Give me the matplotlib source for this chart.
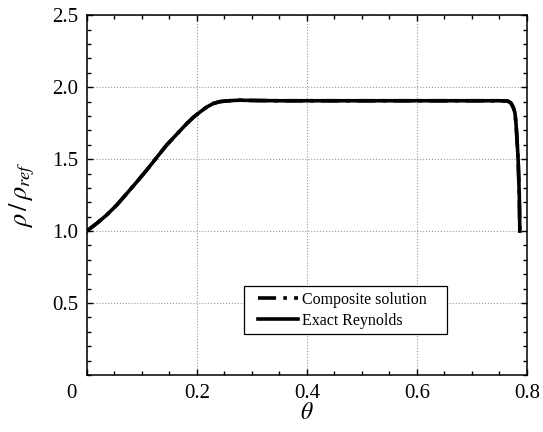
import matplotlib
matplotlib.use('Agg')
import matplotlib.pyplot as plt
import matplotlib.transforms as mtransforms
from matplotlib.ticker import MultipleLocator
from matplotlib.legend_handler import HandlerLine2D

plt.rcParams['font.family'] = ['Liberation Serif', 'DejaVu Serif']
plt.rcParams['mathtext.fontset'] = 'stix'

# values
theta_exact = [0.0, 0.018, 0.036, 0.055, 0.073, 0.091, 0.109, 0.127, 0.145, 0.164,
               0.182, 0.194, 0.206, 0.218, 0.230, 0.242, 0.255, 0.267, 0.279, 0.30,
               0.35, 0.40, 0.50, 0.60, 0.70, 0.75, 0.765, 0.771, 0.775, 0.778,
               0.780, 0.782, 0.784, 0.786, 0.787]
rho_exact = [1.0, 1.053, 1.111, 1.183, 1.262, 1.342, 1.424, 1.511, 1.597, 1.675,
             1.748, 1.792, 1.828, 1.862, 1.887, 1.900, 1.905, 1.908, 1.910, 1.908,
             1.906, 1.906, 1.906, 1.906, 1.906, 1.906, 1.904, 1.890, 1.860, 1.825,
             1.75, 1.63, 1.49, 1.25, 1.0]
theta_comp = list(theta_exact)
rho_comp = list(rho_exact)

xtick_vals = [0, 0.2, 0.4, 0.6, 0.8]
xtick_labels = ['0', '0.2', '0.4', '0.6', '0.8']
ytick_vals = [0.5, 1.0, 1.5, 2.0, 2.5]
ytick_labels = ['0.5', '1.0', '1.5', '2.0', '2.5']

fig = plt.figure(figsize=(5.43, 4.32), dpi=100)
ax = fig.add_axes([0.1597, 0.132, 0.8108, 0.8326])

l1, = ax.plot(theta_comp, rho_comp, color='black', lw=2.6, ls=(0, (5, 2, 1, 2)),
              label='Composite solution')
l2, = ax.plot(theta_exact, rho_exact, color='black', lw=2.6, label='Exact Reynolds')

ax.set_xlim(0, 0.8)
ax.set_ylim(0, 2.5)
ax.xaxis.set_minor_locator(MultipleLocator(0.05))
ax.yaxis.set_minor_locator(MultipleLocator(0.1))
ax.set_xticks(xtick_vals)
ax.set_xticklabels(xtick_labels)
ax.set_yticks(ytick_vals)
ax.set_yticklabels(ytick_labels)

ax.tick_params(which='both', direction='in', top=True, right=True, width=1.0)
ax.tick_params(which='major', length=4.5, labelsize=15)
ax.tick_params(axis='x', which='major', pad=6.5)
ax.tick_params(axis='y', which='major', pad=6)
ax.tick_params(which='minor', length=3)
# the "0" sits left of the corner in the original
lab0 = ax.get_xticklabels()[0]
lab0.set_transform(lab0.get_transform() +
                   mtransforms.ScaledTranslation(-15 / 100, 0, fig.dpi_scale_trans))
for s in ax.spines.values():
    s.set_linewidth(1.1)

ax.grid(True, which='major', ls=':', color='#999999', lw=0.8)

ax.set_xlabel(r'$\theta$', fontsize=17, labelpad=0)
ax.set_ylabel(r'$\rho\,/\,\rho_{ref}$', fontsize=19, labelpad=11)

hmap = {l1: HandlerLine2D(xpad=0.55), l2: HandlerLine2D(xpad=0.55)}
leg = ax.legend(loc='upper left', bbox_to_anchor=(0.357, 0.114, 0.461, 0.133),
                mode='expand', borderaxespad=0, handler_map=hmap,
                fontsize=11.5, handlelength=3.05, handletextpad=0.25,
                fancybox=False, framealpha=1, borderpad=0.35, labelspacing=0.32)
leg.get_frame().set_edgecolor('black')
leg.get_frame().set_linewidth(0.9)

fig.savefig('out.png', dpi=100)
